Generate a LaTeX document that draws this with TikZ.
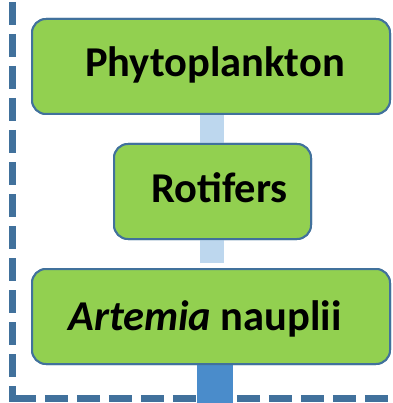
\documentclass[tikz,border=0pt]{standalone}
\usepackage{fontspec}
\setmainfont{Carlito}
\usetikzlibrary{calc}
\definecolor{frameblue}{HTML}{41719C}
\definecolor{leafgreen}{HTML}{92D050}
\definecolor{paleblue}{HTML}{BDD7EE}
\definecolor{deepblue}{HTML}{4A8CCB}
\tikzset{
  stagebox/.style={draw=frameblue, line width=2pt, fill=leafgreen, rounded corners=14pt,
    inner sep=0pt, minimum height=95pt},
  stagelabel/.style={anchor=base, inner sep=0pt, font=\fontsize{42.5}{50}\selectfont\bfseries},
  fencelineV/.style={frameblue, line width=7pt, dash pattern=on 23pt off 9pt},
  fencelineH/.style={frameblue, line width=7pt, dash pattern=on 23pt off 9pt},
  paleconn/.style={paleblue, line width=24pt},
  deepconn/.style={deepblue, line width=36pt}
}
\begin{document}
\begin{tikzpicture}[x=1pt, y=-1pt]
  \useasboundingbox (0,0) rectangle (392,403);
  % dashed enclosure, left and bottom sides
  \coordinate (fenceTop) at (12.8,-30);
  \coordinate (fenceCorner) at (12.8,402);
  \coordinate (fenceBase) at (12.8,398.5);
  \coordinate (fenceEnd) at (420,398.5);
  \draw[fencelineV] (fenceTop) -- (fenceCorner);
  \draw[fencelineH] (fenceBase) -- (fenceEnd);
  % stage boxes
  \node[stagebox, minimum width=358pt] (phyto) at (211,66.5) {};
  \node[stagebox, minimum width=197pt] (rotif) at (212.5,191.5) {};
  \node[stagebox, minimum width=358pt] (artem) at (211,316.5) {};
  % connectors
  \coordinate (paleEnd) at (212,263);
  \coordinate (outFoot) at (215,410);
  \draw[paleconn] (paleEnd |- phyto.south) -- (paleEnd |- rotif.north);
  \draw[paleconn] (paleEnd |- rotif.south) -- (paleEnd);
  \draw[deepconn] (outFoot |- artem.south) -- (outFoot);
  % redraw box outlines above connector ends
  \node[stagebox, minimum width=358pt] at (phyto) {};
  \node[stagebox, minimum width=197pt] at (rotif) {};
  \node[stagebox, minimum width=358pt] at (artem) {};
  % labels
  \node[stagelabel] (phytoText) at (215,77) {Phytoplankton};
  \node[stagelabel] (rotifText) at (219.5,202) {Rotifers};
  \node[stagelabel] (artemText) at (205,330) {\textit{Artemia} nauplii};
\end{tikzpicture}
\end{document}
